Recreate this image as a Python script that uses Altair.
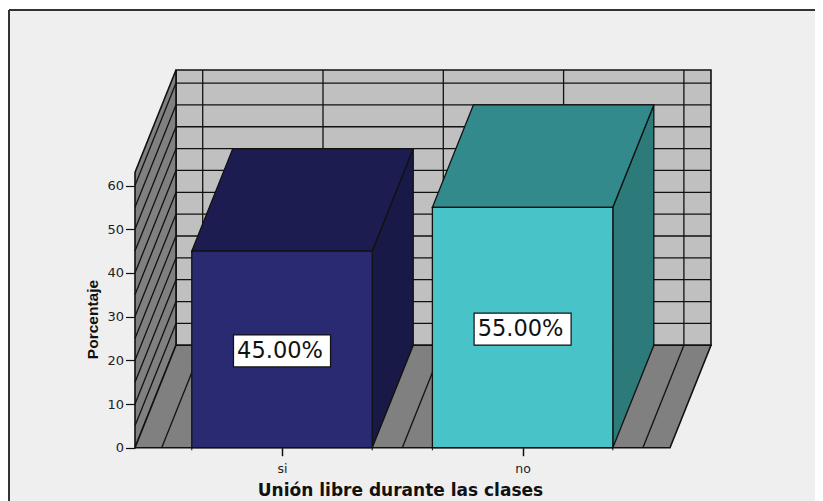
import altair as alt
import pandas as pd

categories = ["si", "no"]
values = [45.0, 55.0]
front_colors = ["#2A2A72", "#48C3C8"]
top_colors = ["#1C1C50", "#328A8C"]
side_colors = ["#191947", "#2C7A7A"]
y_ticks = [0, 10, 20, 30, 40, 50, 60]
grid_values = [5, 10, 15, 20, 25, 30, 35, 40, 45, 50, 55, 60]
floor_lines = [-0.5, 0, 0.5, 1, 1.5]

X_LEFT, X_RIGHT = -0.611, 1.6126
Y_TOP = 63
DEPTH_X, DEPTH_Y = 0.1704, 23.44
BAR_HALF = 0.375

W, H = 806, 495
X_MIN, X_MAX = -1.1347, 2.2153
Y_MIN, Y_MAX = -13.11, 100.16
xs = alt.Scale(domain=[X_MIN, X_MAX], range=[0, W], nice=False, zero=False)
ys = alt.Scale(domain=[Y_MIN, Y_MAX], range=[H, 0], nice=False, zero=False)
LW = 1.3
INK = "#111111"


def X(f="x"):
    return alt.X(f"{f}:Q", scale=xs)


def Y(f="y"):
    return alt.Y(f"{f}:Q", scale=ys)


def side(x, top, fill, width=LW):
    """Sloping face with vertical edges, from front (x) to back."""
    df = pd.DataFrame({"x": [x, x + DEPTH_X], "y": [0, DEPTH_Y], "y2": [top, top + DEPTH_Y]})
    return alt.Chart(df).mark_area(fill=fill, stroke=INK, strokeWidth=width, opacity=1).encode(
        x=X(), y=Y(), y2="y2:Q")


def flat(x0, x1, level, fill, width=LW):
    """Horizontal face, from front to back, at a given height."""
    df = pd.DataFrame({"y": [level, level + DEPTH_Y], "x": [x0, x0 + DEPTH_X], "x2": [x1, x1 + DEPTH_X]})
    return alt.Chart(df).mark_area(orient="horizontal", fill=fill, stroke=INK, strokeWidth=width, opacity=1).encode(
        y=Y(), x=X(), x2="x2:Q")


def box(x0, x1, y0, y1, fill, width=LW):
    df = pd.DataFrame({"x": [x0], "x2": [x1], "y": [y0], "y2": [y1]})
    return alt.Chart(df).mark_rect(fill=fill, stroke=INK, strokeWidth=width).encode(
        x=X(), x2="x2:Q", y=Y(), y2="y2:Q")


def segments(rows, width=LW, color=INK):
    recs = []
    for i, (x0, y0, x1, y1) in enumerate(rows):
        recs += [{"id": i, "x": x0, "y": y0}, {"id": i, "x": x1, "y": y1}]
    return alt.Chart(pd.DataFrame(recs)).mark_line(color=color, strokeWidth=width).encode(
        x=X(), y=Y(), detail="id:N", order=alt.Order("y:Q"))


layers = []

# axes carried by an invisible layer
axis_df = pd.DataFrame({"x": [0, 1], "y": [0, 60]})
axes = alt.Chart(axis_df).mark_point(opacity=0).encode(
    x=alt.X("x:Q", scale=xs, axis=alt.Axis(
        values=[0, 1], labelExpr="datum.value == 0 ? 'si' : 'no'", grid=False, domain=False,
        offset=-57.3, tickSize=8, tickColor=INK, tickWidth=1.5, labelPadding=7,
        labelFont="DejaVu Sans", labelFontSize=12.5, labelColor="#222222",
        title="Unión libre durante las clases", titleFont="DejaVu Sans", titleFontWeight="bold",
        titleFontSize=17, titleColor="#111111", titleX=391, titleY=42.5, titleAlign="center",
        titleBaseline="middle")),
    y=alt.Y("y:Q", scale=ys, axis=alt.Axis(
        values=y_ticks, grid=False, domain=False, offset=-126, tickSize=9.5, tickColor=INK,
        tickWidth=1.2, labelPadding=2, labelFont="DejaVu Sans", labelFontSize=13,
        labelColor="#222222", format="d",
        title="Porcentaje", titleFont="Liberation Sans", titleFontWeight="bold", titleFontSize=15.5,
        titleColor="#111111", titleX=-43, titleY=309, titleAngle=270, titleAlign="center",
        titleBaseline="middle")),
)
layers.append(axes)

# frame: only the left and top sides fall inside the window
layers.append(segments([(X_MIN, Y_MIN, X_MIN, Y_MAX), (X_MIN, Y_MAX, X_MAX, Y_MAX)], 2, "#333333"))

# back wall
layers.append(box(X_LEFT + DEPTH_X, X_RIGHT + DEPTH_X, DEPTH_Y, DEPTH_Y + Y_TOP, "#C0C0C0", 1.6))
layers.append(segments([(X_LEFT + DEPTH_X, g + DEPTH_Y, X_RIGHT + DEPTH_X, g + DEPTH_Y) for g in grid_values]))
layers.append(segments([(f + DEPTH_X, DEPTH_Y, f + DEPTH_X, DEPTH_Y + Y_TOP) for f in floor_lines]))

# left wall
layers.append(side(X_LEFT, Y_TOP, "#808080", 1.6))
layers.append(segments([(X_LEFT, g, X_LEFT + DEPTH_X, g + DEPTH_Y) for g in grid_values]))

# floor
layers.append(flat(X_LEFT, X_RIGHT, 0, "#808080", 1.6))
layers.append(segments([(f, 0, f + DEPTH_X, DEPTH_Y) for f in floor_lines]))

# bars
for i, v in enumerate(values):
    x0, x1 = i - BAR_HALF, i + BAR_HALF
    layers.append(side(x1, v, side_colors[i]))
    layers.append(flat(x0, x1, v, top_colors[i]))
    layers.append(box(x0, x1, 0, v, front_colors[i]))

# small ticks at the bar edges
edge_rows = []
for i in range(len(values)):
    edge_rows += [(i - BAR_HALF, 0, i - BAR_HALF, -0.6), (i + BAR_HALF, 0, i + BAR_HALF, -0.6)]
layers.append(segments(edge_rows, 1))

# value labels
label_df = pd.DataFrame({
    "x": list(range(len(values))),
    "y": [v / 2 for v in values],
    "label": [f"{v:.2f}%" for v in values],
})
layers.append(alt.Chart(label_df).mark_rect(width=97, height=32, fill="white", stroke=INK, strokeWidth=1.2, yOffset=1.5).encode(
    x=X(), y=Y()))
layers.append(alt.Chart(label_df).mark_text(font="DejaVu Sans", fontSize=22.5, color="#111111", yOffset=1.5, dx=-2).encode(
    x=X(), y=Y(), text="label:N"))

chart = alt.layer(*layers).properties(
    width=W, height=H,
    padding={"left": 1, "top": 2, "right": 0, "bottom": 0},
    autosize=alt.AutoSizeParams(type="none"),
).configure_view(fill="#EFEFEF", stroke=None)

chart.save("out.html", embed_options={"renderer": "svg", "actions": False})
